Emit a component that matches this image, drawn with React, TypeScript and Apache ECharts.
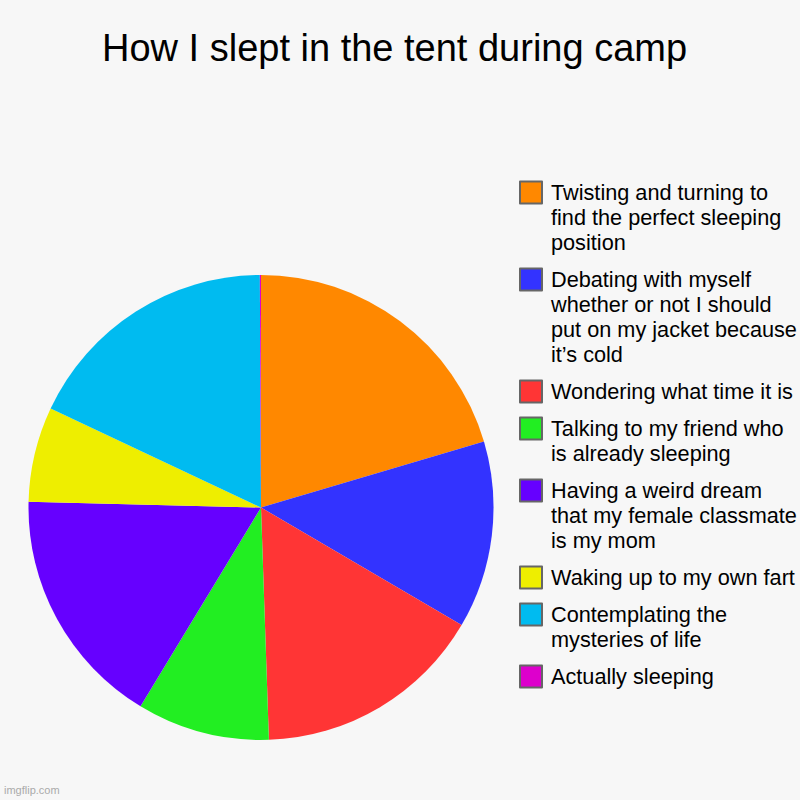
import React, { useEffect, useRef } from 'react';
import * as echarts from 'echarts';

// Slices, clockwise from 12 o'clock (share of the night)
const categories = [
  'Twisting and turning to find the perfect sleeping position',
  'Debating with myself whether or not I should put on my jacket because it’s cold',
  'Wondering what time it is',
  'Talking to my friend who is already sleeping',
  'Having a weird dream that my female classmate is my mom',
  'Waking up to my own fart',
  'Contemplating the mysteries of life',
  'Actually sleeping',
];
const values = [20.4, 13.0, 16.0, 9.2, 16.7, 6.6, 17.9, 0.08];
const colors = ['#ff8800', '#3333ff', '#ff3535', '#22ee22', '#6600ff', '#eeee00', '#00bbf0', '#dd00cc'];

// Legend text as it wraps in the picture
const wrappedLabels = [
  'Twisting and turning to\nfind the perfect sleeping\nposition',
  'Debating with myself\nwhether or not I should\nput on my jacket because\nit’s cold',
  'Wondering what time it is',
  'Talking to my friend who\nis already sleeping',
  'Having a weird dream\nthat my female classmate\nis my mom',
  'Waking up to my own fart',
  'Contemplating the\nmysteries of life',
  'Actually sleeping',
];

const LINE = 25;
const ITEM_GAP = 12;
const FIRST_ICON_Y = 192.5;
const FONT = 'Liberation Sans, Arial, sans-serif';

// one legend per entry so that each icon sits beside the first line of its text
function buildLegends() {
  const legends: any[] = [];
  let iconY = FIRST_ICON_Y;
  categories.forEach((name, i) => {
    const n = wrappedLabels[i].split('\n').length;
    legends.push({
      orient: 'vertical',
      left: 519,
      top: iconY - ((2 * n - 1) * LINE) / 2,
      padding: 0,
      itemWidth: 22,
      itemHeight: 22,
      icon: 'rect',
      selectedMode: false,
      itemStyle: { borderColor: '#666', borderWidth: 2 },
      textStyle: {
        fontSize: 21.7,
        lineHeight: LINE,
        color: '#000',
        fontFamily: FONT,
        padding: [0, 0, 0, 4],
      },
      // blank lines in front keep the first text line level with the icon
      formatter: () => '\n'.repeat(n - 1) + wrappedLabels[i],
      data: [name],
    });
    iconY += n * LINE + ITEM_GAP;
  });
  return legends;
}

export default function App() {
  const chartRef = useRef<HTMLDivElement>(null);

  useEffect(() => {
    if (!chartRef.current) return;
    const chart = echarts.init(chartRef.current, undefined, { renderer: 'svg' });

    const option: echarts.EChartsOption = {
      animation: false,
      backgroundColor: '#f7f7f7',
      textStyle: { fontFamily: FONT },
      title: {
        text: 'How I slept in the tent during camp',
        left: 102,
        top: 29,
        padding: 0,
        textStyle: {
          fontSize: 38,
          fontWeight: 'normal',
          color: '#000',
          fontFamily: FONT,
        },
      },
      legend: buildLegends(),
      graphic: [
        {
          type: 'text',
          left: 4,
          top: 784,
          style: {
            text: 'imgflip.com',
            fill: '#aaa',
            font: '11px Liberation Sans, Arial, sans-serif',
          },
        },
      ],
      series: [
        {
          type: 'pie',
          center: [261, 507.5],
          radius: 232.5,
          startAngle: 90,
          clockwise: true,
          silent: true,
          label: { show: false },
          labelLine: { show: false },
          emphasis: { disabled: true },
          itemStyle: { borderWidth: 0 },
          data: categories.map((name, i) => ({
            name,
            value: values[i],
            itemStyle: { color: colors[i] },
          })),
        },
      ],
    };

    chart.setOption(option);

    return () => {
      chart.dispose();
    };
  }, []);

  return (
    <div
      ref={chartRef}
      style={{ position: 'fixed', left: 0, top: 0, width: 800, height: 800 }}
    />
  );
}
